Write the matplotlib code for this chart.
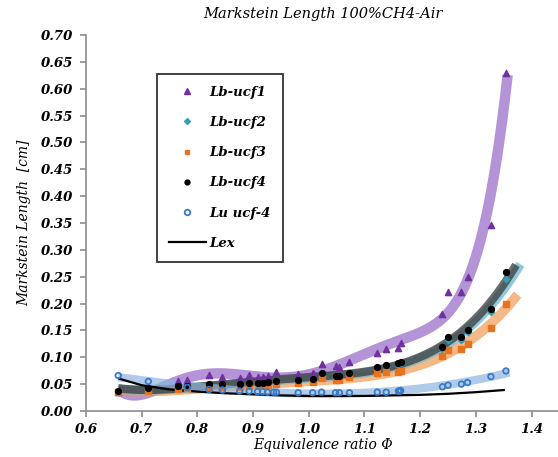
import numpy as np
import matplotlib.pyplot as plt
from matplotlib.lines import Line2D

plt.rcParams["font.family"] = "DejaVu Serif"
plt.rcParams["font.weight"] = "bold"
plt.rcParams["font.style"] = "italic"

# equivalence ratio of the Lb measurements
phi = [0.658, 0.712, 0.766, 0.782, 0.821, 0.845, 0.876, 0.893, 0.908, 0.917,
       0.926, 0.942, 0.981, 1.007, 1.023, 1.048, 1.055, 1.073, 1.123, 1.139,
       1.161, 1.165, 1.240, 1.250, 1.274, 1.285, 1.327, 1.354]
lb_ucf1 = [0.036, 0.045, 0.056, 0.058, 0.067, 0.063, 0.061, 0.067, 0.064, 0.063,
           0.065, 0.073, 0.068, 0.070, 0.087, 0.084, 0.081, 0.092, 0.108, 0.115,
           0.118, 0.126, 0.180, 0.221, 0.221, 0.250, 0.346, 0.629]
lb_ucf2 = [0.037, 0.041, 0.045, 0.046, 0.049, 0.049, 0.049, 0.051, 0.052, 0.052,
           0.053, 0.055, 0.057, 0.059, 0.066, 0.064, 0.064, 0.069, 0.080, 0.083,
           0.086, 0.089, 0.116, 0.133, 0.133, 0.147, 0.185, 0.245]
lb_ucf3 = [0.035, 0.038, 0.041, 0.042, 0.045, 0.045, 0.045, 0.047, 0.048, 0.048,
           0.049, 0.050, 0.052, 0.054, 0.062, 0.058, 0.058, 0.064, 0.071, 0.072,
           0.072, 0.075, 0.102, 0.114, 0.115, 0.125, 0.155, 0.199]
lb_ucf4 = [0.038, 0.042, 0.046, 0.047, 0.050, 0.050, 0.050, 0.052, 0.053, 0.053,
           0.054, 0.056, 0.058, 0.060, 0.070, 0.066, 0.066, 0.071, 0.0825, 0.085,
           0.089, 0.092, 0.120, 0.137, 0.137, 0.151, 0.190, 0.258]

phi_lu = [0.658, 0.712, 0.782, 0.821, 0.845, 0.876, 0.893, 0.908, 0.917, 0.926,
          0.937, 0.942, 0.981, 1.007, 1.023, 1.048, 1.055, 1.073, 1.123, 1.139,
          1.161, 1.163, 1.165, 1.240, 1.250, 1.274, 1.285, 1.327, 1.354]
lu_ucf4 = [0.066, 0.055, 0.044, 0.040, 0.039, 0.037, 0.037, 0.036, 0.036, 0.035,
           0.035, 0.035, 0.034, 0.034, 0.035, 0.034, 0.034, 0.034, 0.035, 0.035,
           0.037, 0.037, 0.038, 0.045, 0.048, 0.050, 0.053, 0.064, 0.0745]

phi_lex = [0.66, 0.70, 0.75, 0.80, 0.85, 0.90, 0.95, 1.00, 1.05, 1.10, 1.15,
           1.20, 1.25, 1.30, 1.35]
lex = [0.060, 0.048, 0.040, 0.036, 0.033, 0.031, 0.029, 0.028, 0.028, 0.028,
       0.029, 0.030, 0.032, 0.035, 0.039]

fig = plt.figure(figsize=(5.58, 4.57), dpi=100)
ax = fig.add_axes([0.154, 0.1007, 0.8486, 0.8228])

# trend bands (polynomial fits drawn as thick translucent lines)
bands = [
    (phi, lb_ucf1, 6, 1.357, "#9b6fc9", 7.5, 0.75),
    (phi, lb_ucf3, 4, 1.375, "#f19a55", 7.0, 0.7),
    (phi, lb_ucf2, 4, 1.38, "#6bb7cf", 6.5, 0.75),
    (phi, lb_ucf4, 4, 1.372, "#3a3a3a", 6.0, 0.75),
    (phi_lu, lu_ucf4, 3, 1.36, "#8db6e0", 6.0, 0.7),
]
for xs, ys, deg, xend, col, lw, a in bands:
    c = np.polyfit(xs, ys, deg)
    xx = np.linspace(xs[0], xend, 200)
    ax.plot(xx, np.polyval(c, xx), color=col, lw=lw, alpha=a,
            solid_capstyle="butt", zorder=2)

ax.plot(phi_lex, lex, color="black", lw=1.6, zorder=3)
ax.scatter(phi, lb_ucf1, marker="^", s=20, color="#7030a0", zorder=4)
ax.scatter(phi, lb_ucf2, marker="D", s=10, color="#31a0b8", zorder=4)
ax.scatter(phi, lb_ucf3, marker="s", s=16, color="#e8731f", zorder=4)
ax.scatter(phi, lb_ucf4, marker="o", s=18, color="black", zorder=4)
ax.scatter(phi_lu, lu_ucf4, marker="o", s=16, facecolors="none",
           edgecolors="#3a7bc8", linewidths=1.3, zorder=4)

ax.set_xlim(0.6, 1.45)
ax.set_ylim(0, 0.70)
ax.set_xticks(np.arange(0.6, 1.41, 0.1))
ax.set_yticks(np.arange(0, 0.701, 0.05))
ax.set_xticklabels([f"{v:.1f}" for v in np.arange(0.6, 1.41, 0.1)])
ax.set_yticklabels([f"{v:.2f}" for v in np.arange(0, 0.701, 0.05)])
for s in ["top", "right"]:
    ax.spines[s].set_visible(False)
for s in ["left", "bottom"]:
    ax.spines[s].set_color("#8c8c8c")
    ax.spines[s].set_linewidth(1.2)
ax.tick_params(colors="#8c8c8c", length=4, width=1.2, labelcolor="black",
               labelsize=9.5, pad=5)

ax.set_title("Markstein Length 100%CH4-Air", fontsize=10.5, pad=12)
ax.set_xlabel("Equivalence ratio \u03a6", fontsize=10, labelpad=1)
ax.set_ylabel("Markstein Length  [cm]", fontsize=10, labelpad=7)

handles = [
    Line2D([], [], ls="none", marker="^", ms=4, color="#7030a0"),
    Line2D([], [], ls="none", marker="D", ms=3, color="#31a0b8"),
    Line2D([], [], ls="none", marker="s", ms=3.5, color="#e8731f"),
    Line2D([], [], ls="none", marker="o", ms=3.5, color="black"),
    Line2D([], [], ls="none", marker="o", ms=4, mfc="none", mec="#3a7bc8", mew=1.3),
    Line2D([], [], color="black", lw=1.6),
]
labels = ["Lb-ucf1", "Lb-ucf2", "Lb-ucf3", "Lb-ucf4", "Lu ucf-4", "Lex"]
leg = ax.legend(handles, labels, loc="upper left", bbox_to_anchor=(0.15, 0.896),
                fontsize=9.5, frameon=True, fancybox=False, handlelength=2.8,
                labelspacing=1.3, borderpad=0.9, handletextpad=0.3,
                borderaxespad=0)
leg.get_frame().set_edgecolor("black")
leg.get_frame().set_linewidth(1.3)

fig.savefig("out.png", dpi=100)
